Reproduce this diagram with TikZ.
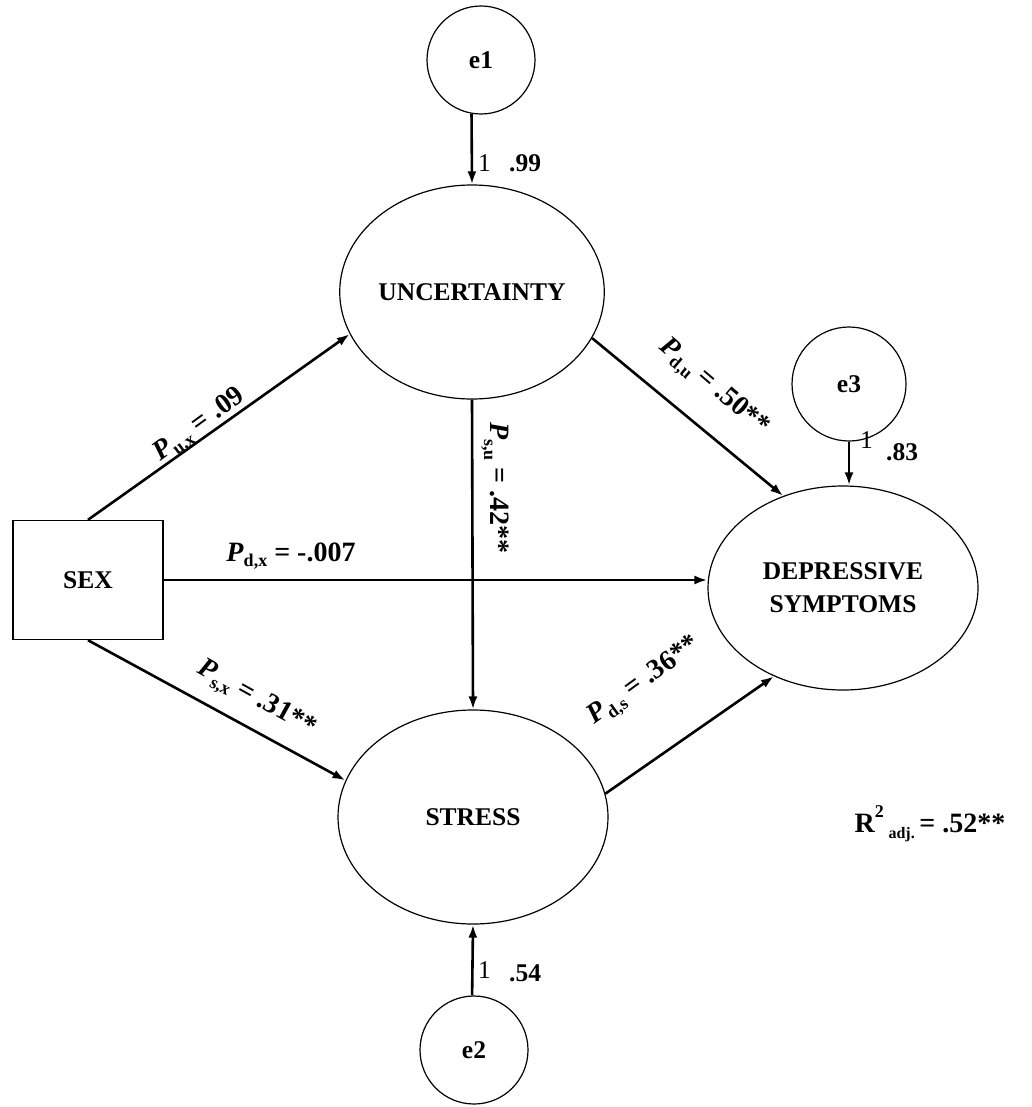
\documentclass[tikz,border=0pt]{standalone}
\usepackage{fontspec}
\setmainfont{Liberation Serif}
\usetikzlibrary{shapes.geometric,arrows.meta}

% path coefficient: bold italic P with a bold subscript
\newcommand\pcoef[1]{\textit{P}\raisebox{-0.45ex}{\fontsize{18}{18}\selectfont #1}}

\begin{document}
\begin{tikzpicture}[x=1pt,y=-1pt,
  every node/.style={font=\fontsize{25.5}{33}\selectfont\bfseries},
  latent/.style={draw, ellipse, line width=1.2pt, inner sep=0pt},
  errnode/.style={draw, circle, line width=1.2pt, inner sep=0pt, minimum size=108pt},
  obs/.style={draw, rectangle, line width=1.4pt, minimum width=150pt, minimum height=119pt},
  path/.style={line width=2.6pt, -{Latex[length=13pt,width=9pt]}},
  coef/.style={inner sep=1pt, font=\fontsize{28}{32}\selectfont\bfseries},
  loadnum/.style={inner sep=1pt, anchor=west},
  loadone/.style={inner sep=1pt, anchor=west, font=\fontsize{25.5}{30}\selectfont},
]
\useasboundingbox (0,0) rectangle (1031,1107);

% variables
\node[errnode] (e1) at (481,60) {e1};
\node[latent, minimum width=260pt, minimum height=214pt] (unc) at (472,292) {UNCERTAINTY};
\node[errnode, minimum size=114pt] (e3) at (849,384) {e3};
\node[latent, minimum width=270pt, minimum height=204pt, align=center] (dep) at (843,588) {DEPRESSIVE\\SYMPTOMS};
\node[obs] (sex) at (88,580) {SEX};
\node[latent, minimum width=270pt, minimum height=214pt] (stress) at (473,817) {STRESS};
\node[errnode] (e2) at (474,1050) {e2};

% error terms
\draw[path] (e1.260) -- (unc.north);
\draw[path] (e3.south) -- (e3.south |- dep.north);
\draw[path] (e2.92) -- (stress.south);

% structural paths
\draw[path] (sex.north) -- (unc.199);
\draw[path] (sex.south) -- (stress.164);
\draw[path] (sex.east) -- (sex.east -| dep.west);
\draw[path] (unc.south) -- (stress.north);
\draw[path] (unc.339) -- (dep.123);
\draw[path] (stress.10) -- (dep.232);

% loadings and residual variances
\node[loadone] (l1) at (477,163) {1};
\node[loadnum] (v1) at (508,163) {.99};
\node[loadone] (l3) at (859,440) {1};
\node[loadnum] (v3) at (885,452) {.83};
\node[loadone] (l2) at (477,970) {1};
\node[loadnum] (v2) at (508,973) {.54};

% path coefficients
\node[coef, rotate=36] (cux) at (200,426) {\pcoef{u,x} = .09};
\node[coef] (cdx) at (291,556) {\pcoef{d,x} = -.007};
\node[coef, rotate=-90] (csu) at (495,488) {\pcoef{s,u} = .42**};
\node[coef, rotate=-40.5] (cdu) at (713,388) {\pcoef{d,u} = .50**};
\node[coef, rotate=-29] (csx) at (256,700) {\pcoef{s,x} = .31**};
\node[coef, rotate=36] (cds) at (645,682) {\pcoef{d,s} = .36**};

% explained variance
\node[coef] (r2) at (930,824) {R\raisebox{1.1ex}{\fontsize{18}{18}\selectfont 2}\,\raisebox{-0.5ex}{\fontsize{16}{16}\selectfont adj.}\,= .52**};
\end{tikzpicture}
\end{document}
